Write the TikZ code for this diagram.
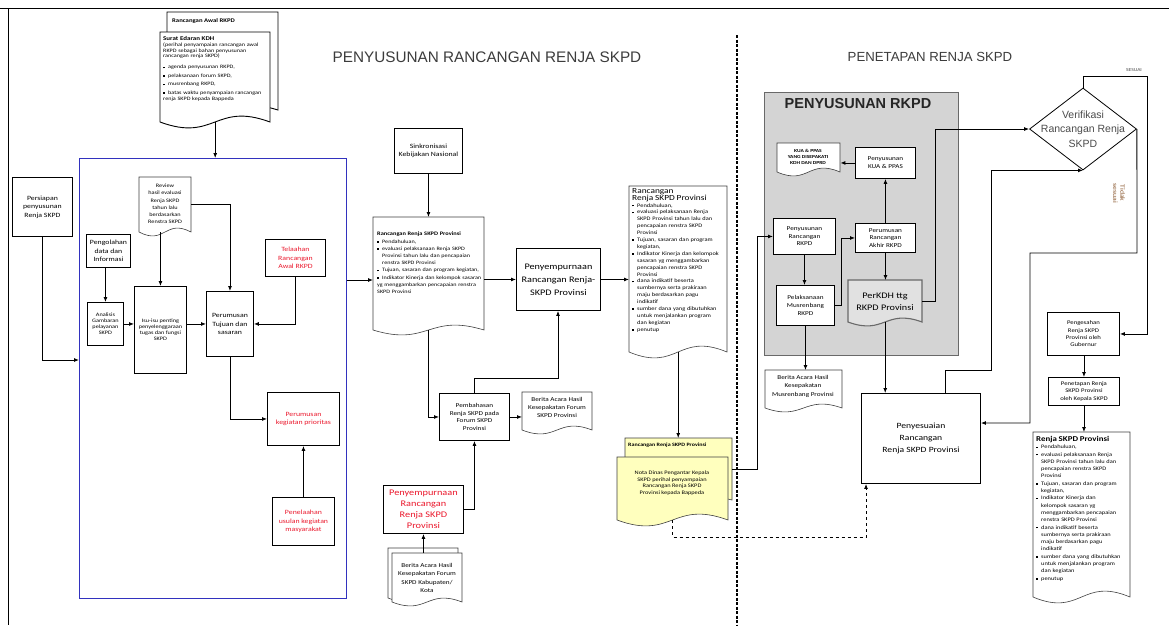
\documentclass[tikz,border=0pt]{standalone}
\usepackage{fontspec}
\setmainfont{Carlito}[FakeStretch=1.2]
\newfontfamily\arialf{Liberation Sans}
\usetikzlibrary{calc,arrows.meta,shapes.geometric}
\definecolor{bluebox}{RGB}{50,50,190}
\definecolor{redtxt}{RGB}{235,25,45}
\definecolor{yellowdoc}{RGB}{255,255,190}
\definecolor{grayfill}{RGB}{212,212,212}
\definecolor{grayedge}{RGB}{105,105,105}
\definecolor{titlegray}{RGB}{60,60,60}
\definecolor{brownlbl}{RGB}{140,90,50}
\hyphenpenalty=10000
\exhyphenpenalty=10000
\newcommand\fsz[2]{\fontsize{#1}{#2}\selectfont}
\newcommand\itmgap{0pt}
\newcommand\itm[1]{\par\vskip\itmgap\noindent\hangindent=5pt\hangafter=1\hbox to 5pt{\rule[0.6pt]{1.5pt}{1.5pt}\hss}#1}
\newcommand\bx[7][]{%
 \pgfmathsetmacro\bw{#5-#3}\pgfmathsetmacro\bh{#6-#4}%
 \node[box,minimum width=\bw pt,minimum height=\bh pt,#1] (#2) at (#3,#4) {#7};}
\newcommand\docnode[7][]{%
 \pgfmathsetmacro\dxm{(#3+#5)/2}%
 \pgfmathsetmacro\dyu{#6-#7*3.4}\pgfmathsetmacro\dyd{#6+#7*3.4}%
 \draw[docline,#1] (#3,#6) -- (#3,#4) -- (#5,#4) -- (#5,#6) .. controls (\dxm,\dyu) and (\dxm,\dyd) .. (#3,#6) -- cycle;
 \pgfmathsetmacro\bw{#5-#3}\pgfmathsetmacro\bh{#6-#4}%
 \node[draw=none,fill=none,anchor=north west,inner sep=0pt,minimum width=\bw pt,minimum height=\bh pt] (#2) at (#3,#4) {};}
\begin{document}
\begin{tikzpicture}[x=1pt,y=-1pt,
 arr/.style={-{Latex[length=5pt,width=4pt]},line width=0.9pt},
 box/.style={draw,line width=0.9pt,fill=white,anchor=north west,inner sep=1pt,align=center,font=\fsz{6.5}{8.6}},
 docline/.style={draw=black!75,line width=0.6pt,fill=white},
 dtext/.style={anchor=north west,inner sep=0pt,align=left,font=\fsz{5.1}{7.2}},
 ctext/.style={inner sep=0pt,align=center,font=\fsz{6}{8}},
 redt/.style={text=redtxt},
 ttl/.style={font=\arialf\fsz{15.3}{17},text=titlegray}]
\useasboundingbox (0,0) rectangle (1169,625);
\fill[white] (0,0) rectangle (1169,625);
\draw[line width=0.8pt] (0,8) -- (1169,8);
\draw[line width=0.8pt] (8,8) -- (8,625);
\draw[line width=1.1pt,dash pattern=on 3pt off 1.5pt] (737,35) -- (737,625);

\node[ttl] (t1) at (487,57) {PENYUSUNAN RANCANGAN RENJA SKPD};
\node[ttl,font=\arialf\fsz{13.2}{15}] (t2) at (930,57) {PENETAPAN RENJA SKPD};

% ---------- top stacked doc
\docnode[draw=black,line width=0.9pt]{awal}{167}{12}{278}{110}{5}
\node[dtext,font=\fsz{5.6}{6.4}\bfseries] (awal-t) at (172,18) {Rancangan Awal RKPD};
\docnode[draw=black,line width=0.9pt]{sekdh}{160}{32}{270}{122}{6}
\node[dtext,text width=102pt,font=\fsz{5.1}{5.9}] (sekdh-t) at (163,36) {{\fsz{5.8}{6.8}\bfseries Surat Edaran KDH}\\(perihal penyampaian rancangan awal RKPD sebagai bahan penyusunan rancangan renja SKPD)\par\vskip 2.5pt\renewcommand\itmgap{2.6pt}
\itm{agenda penyusunan RKPD,}
\itm{pelaksanaan forum SKPD,}
\itm{musrenbang RKPD,}
\itm{batas waktu penyampaian rancangan renja SKPD kepada Bappeda}};

% ---------- left part
\bx{persiapan}{12}{177}{72}{236}{Persiapan\\penyusunan\\Renja SKPD}
\node[draw=bluebox,line width=0.9pt,anchor=north west,minimum width=267pt,minimum height=440pt,inner sep=0pt] (blue) at (79,158) {};
\draw[arr] (sekdh.south) -- (sekdh.south |- blue.north);
\draw[arr] (persiapan.south) |- ($(blue.north west)+(0,202)$);

\bx{pengolahan}{86}{234}{130}{267}{Pengolahan\\data dan\\Informasi}
\bx[font=\fsz{5.2}{6}]{analisis}{87}{302}{123}{345}{Analisis\\Gambaran\\pelayanan\\SKPD}
\bx[font=\fsz{5.2}{6}]{isu}{134}{286}{186}{373}{Isu-isu penting\\penyelenggaraan\\tugas dan fungsi\\SKPD}
\docnode{review}{139}{177}{191}{232}{4}
\node[ctext,font=\fsz{5.2}{7.2}] (review-t) at (165,204) {Review\\hasil evaluasi\\Renja SKPD\\tahun lalu\\berdasarkan\\Renstra SKPD};
\bx{perumusan}{206}{291}{253}{356}{Perumusan\\Tujuan dan\\sasaran}
\bx[redt]{telaahan}{265}{239}{325}{276}{Telaahan\\Rancangan\\Awal RKPD}
\bx[redt]{kegiatan}{267}{392}{339}{445}{Perumusan\\kegiatan prioritas}
\bx[redt]{penelaahan}{272}{497}{334}{545}{Penelaahan\\usulan kegiatan\\masyarakat}

\draw[arr] (pengolahan.south -| analisis.north) -- (analisis.north);
\draw[arr] (analisis.east) -- (analisis.east -| isu.west);
\draw[arr] (isu.north |- review.south) -- (isu.north);
\draw[arr] (review.east) -| (perumusan.north);
\draw[arr] (isu.east |- perumusan.west) -- (perumusan.west);
\draw[arr] (telaahan.south) |- (perumusan.east);
\draw[arr] (perumusan.south) |- (kegiatan.west);
\draw[arr] (penelaahan.north) -- (penelaahan.north |- kegiatan.south);

% ---------- middle
\bx{sink}{394}{128}{462}{173}{Sinkronisasi\\Kebijakan Nasional}
\docnode{rr}{373}{217}{484}{330}{5}
\node[dtext,text width=104pt] (rr-t) at (377,232) {{\fsz{5.3}{7.2}\bfseries Rancangan Renja SKPD Provinsi}
\itm{Pendahuluan,}
\itm{evaluasi pelaksanaan Renja SKPD Provinsi tahun lalu dan pencapaian renstra SKPD Provinsi}
\itm{Tujuan, sasaran dan program kegiatan,}
\itm{Indikator Kinerja dan kelompok sasaran yg menggambarkan pencapaian renstra SKPD Provinsi}};
\draw[arr] (sink.south) -- (sink.south |- rr.north);
\draw[arr] ($(blue.north east)+(0,122)$) -- ($(rr.north west)+(0,63)$);

\bx[font=\fsz{8.5}{13}]{peny}{516}{248}{600}{310}{Penyempurnaan\\Rancangan Renja-\\SKPD Provinsi}
\draw[arr] (peny.west -| rr.east) -- (peny.west);

\bx[font=\fsz{6}{7.8}]{pemb}{439}{393}{509}{440}{Pembahasan\\Renja SKPD pada\\Forum SKPD\\Provinsi}
\draw[arr] (rr.south) |- (pemb.west);
\coordinate (c1) at (558,378);
\draw[arr] (pemb.north) |- (c1) -- (c1 |- peny.south);
\docnode{ba1}{522}{392}{592}{430}{4}
\node[ctext] (ba1-t) at (557,407) {Berita Acara Hasil\\Kesepakatan Forum\\SKPD Provinsi};
\draw[arr] (pemb.east) -- (pemb.east -| ba1.west);

\bx[redt,font=\fsz{8.6}{10.8}]{pr}{383}{485}{463}{533}{Penyempurnaan\\Rancangan\\Renja SKPD\\Provinsi}
\draw[arr] (pr.east) -| (pemb.south);
\docnode{bakb}{388}{548}{458}{598}{4}
\docnode{bak}{392}{553}{462}{602}{4}
\node[ctext,font=\fsz{6}{8.5}] (bak-t) at (427,578) {Berita Acara Hasil\\Kesepakatan Forum\\SKPD Kabupaten/\\Kota};
\draw[arr] (bak.north -| pr.south) -- (pr.south);

% ---------- big doc
\docnode{rr2}{629}{186}{727}{352}{6}
\node[dtext,text width=88pt,font=\fsz{5.3}{6.9}] (rr2-t) at (632,188) {{\fsz{7.8}{8.6}Rancangan\\Renja SKPD Provinsi}
\itm{Pendahuluan,}
\itm{evaluasi pelaksanaan Renja SKPD Provinsi tahun lalu dan pencapaian renstra SKPD Provinsi}
\itm{Tujuan, sasaran dan program kegiatan,}
\itm{Indikator Kinerja dan kelompok sasaran yg menggambarkan pencapaian renstra SKPD Provinsi}
\itm{dana indikatif beserta sumbernya serta prakiraan maju berdasarkan pagu indikatif}
\itm{sumber dana yang dibutuhkan untuk menjalankan program dan kegiatan}
\itm{penutup}};
\draw[arr] (peny.east) -- (peny.east -| rr2.west);

% ---------- yellow stacked doc
\docnode[fill=yellowdoc]{yb}{625}{438}{732}{500}{4}
\node[dtext,font=\fsz{5}{5.6}\bfseries] (yb-t) at (628,443) {Rancangan Renja SKPD Provinsi};
\docnode[fill=yellowdoc]{yf}{617}{457}{728}{520}{6}
\node[ctext,font=\fsz{5.3}{6.6}] (yf-t) at (672,483) {Nota Dinas Pengantar Kepala\\SKPD perihal penyampaian\\Rancangan Renja SKPD\\Provinsi kepada Bappeda};
\draw[arr] (rr2.south) -- (rr2.south |- yb.north);

% ---------- gray RKPD box
\node[draw=grayedge,fill=grayfill,line width=1.2pt,anchor=north west,minimum width=194pt,minimum height=263pt,inner sep=0pt] (gray) at (764,92) {};
\node[font=\arialf\bfseries\fsz{14.5}{16},text=black!85] (gray-t) at (858,104) {PENYUSUNAN RKPD};
\docnode{kuadoc}{777}{143}{840}{172}{4}
\node[ctext,font=\fsz{4.6}{6}\bfseries] (kuadoc-t) at (808,157) {KUA \& PPAS\\YANG DISEPAKATI\\KDH DAN DPRD};
\bx[font=\fsz{6}{8.2}]{kua}{855}{147}{915}{178}{Penyusunan\\KUA \& PPAS}
\bx[font=\fsz{6}{7.6}]{prk}{773}{218}{835}{254}{Penyusunan\\Rancangan\\RKPD}
\bx[font=\fsz{6}{7.6}]{pra}{855}{223}{915}{252}{Perumusan\\Rancangan\\Akhir RKPD}
\docnode[draw=grayedge,fill=grayfill!70,line width=1.1pt]{perkdh}{848}{280}{922}{322}{4}
\node[ctext,font=\fsz{8.5}{11.5}] (perkdh-t) at (885,302) {PerKDH ttg\\RKPD Provinsi};
\bx[font=\fsz{6}{8}]{mus}{776}{285}{834}{325}{Pelaksanaan\\Musrenbang\\RKPD}
\draw[arr] (kua.west) -- (kua.west -| kuadoc.east);
\draw[arr] (pra.north) -- (kua.south);
\draw[arr] (pra.south) -- (pra.south |- perkdh.north);
\draw[arr] (prk.south) -- (prk.south |- mus.north);
\coordinate (c8) at (841,0);
\draw[arr] (mus.east) -- (mus.east -| c8) -- (c8 |- pra.west) -- (pra.west);
\coordinate (c2) at (757,0);
\draw[arr] (yb.east) -- (yb.east -| c2) -- (c2 |- prk.west) -- (prk.west);

\docnode{bam}{765}{370}{842}{408}{4}
\node[ctext,font=\fsz{6}{8.5}] (bam-t) at (803,386) {Berita Acara Hasil\\Kesepakatan\\Musrenbang Provinsi};
\draw[arr] (mus.south) -- (mus.south |- bam.north);

% ---------- Penyesuaian
\bx[font=\fsz{8}{11.6}]{penyes}{861}{393}{980}{483}{Penyesuaian\\Rancangan\\Renja SKPD Provinsi}
\draw[arr] (perkdh.south) -- (perkdh.south |- penyes.north);
\coordinate (c11) at (866,0);
\draw[arr,dashed] (yf.south) -- ++(0,17) coordinate (d1) -- (d1 -| c11) -- (c11 |- penyes.south);

% ---------- diamond
\node[draw,diamond,line width=0.8pt,minimum width=107pt,minimum height=82pt,inner sep=0pt] (ver) at (1083,129) {};
\node[align=center,inner sep=0pt,font=\arialf\fsz{10.5}{14.5},text=black!70] (ver-t) at (ver.center) {Verifikasi\\Rancangan Renja\\SKPD};
\coordinate (c3) at (935,0);
\draw[arr] (perkdh.east) -- (perkdh.east -| c3) -- (c3 |- ver.west) -- (ver.west);
\coordinate (c4) at (945,370);
\coordinate (c5) at (991,370);
\draw[arr] (c4 |- penyes.north) -- (c4) -- (c5) -- (c5 |- ver.south) -- (ver.south);
\coordinate (c6) at (1137,253);
\coordinate (c7) at (1030,253);
\draw[arr] (ver.east) -- (c6) -- (c7) -- ++(0,170) coordinate (c9) -- (c9 -| penyes.east);
\node[rotate=-90,align=center,font=\fsz{6.5}{7.4},text=brownlbl] (tidak) at (1119,193) {Tidak\\sesuai};
\node[font=\fsz{4.6}{5},text=black!70] (sesuai) at (1134,70) {SESUAI};

% ---------- right column
\bx[font=\fsz{5.6}{7.4}]{pengesahan}{1047}{312}{1119}{355}{Pengesahan\\Renja SKPD\\Provinsi oleh\\Gubernur}
\bx[font=\fsz{5.6}{7.4}]{penetapan}{1048}{377}{1119}{405}{Penetapan Renja\\SKPD Provinsi\\oleh Kepala SKPD}
\coordinate (c10) at (1147,76);
\draw[line width=0.9pt] (ver.north) |- (c10);
\draw[arr] (c10) -- (c10 |- pengesahan.east) -- (pengesahan.east);
\draw[arr] (pengesahan.south -| penetapan.north) -- (penetapan.north);
\docnode{renja}{1033}{432}{1130}{597}{6}
\node[dtext,text width=86pt,font=\fsz{5.3}{7.3}] (renja-t) at (1036,436) {{\fsz{7.4}{8.4}\bfseries Renja SKPD Provinsi}
\itm{Pendahuluan,}
\itm{evaluasi pelaksanaan Renja SKPD Provinsi tahun lalu dan pencapaian renstra SKPD Provinsi}
\itm{Tujuan, sasaran dan program kegiatan,}
\itm{Indikator Kinerja dan kelompok sasaran yg menggambarkan pencapaian renstra SKPD Provinsi}
\itm{dana indikatif beserta sumbernya serta prakiraan maju berdasarkan pagu indikatif}
\itm{sumber dana yang dibutuhkan untuk menjalankan program dan kegiatan}
\itm{penutup}};
\draw[arr] (penetapan.south) -- (penetapan.south |- renja.north);
\end{tikzpicture}
\end{document}
